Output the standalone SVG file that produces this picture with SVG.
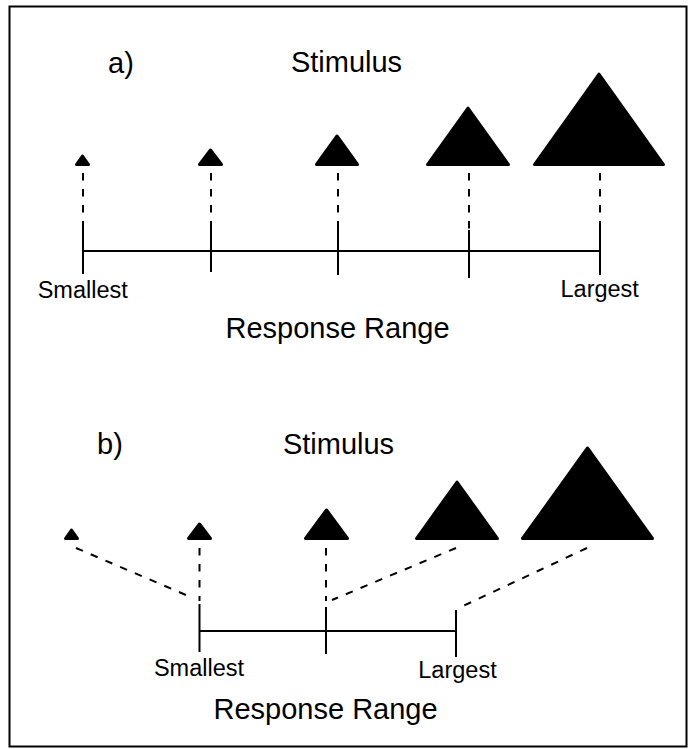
<svg xmlns="http://www.w3.org/2000/svg" width="688" height="749" viewBox="0 0 688 749">
<style>
.t{font-family:"Liberation Sans",Arial,sans-serif;fill:#000}
.big{font-size:29px}
.sm{font-size:23.5px}
.tri{fill:#000;stroke:#000;stroke-width:3;stroke-linejoin:round}
.dash{stroke:#000;stroke-width:2;stroke-dasharray:7.5 8.5;fill:none}
.solid{stroke:#000;stroke-width:2;fill:none}
</style>
<rect x="9.5" y="6.5" width="677" height="740" fill="#fff" stroke="#000" stroke-width="2"/>
<g id="panel-a">
  <text class="t big" x="108" y="73">a)</text>
  <text class="t big" x="346.5" y="72" text-anchor="middle">Stimulus</text>
  <g id="a-s1"><polygon class="tri" points="82.5,156 76.5,164.5 88.5,164.5"/></g>
  <g id="a-s2"><polygon class="tri" points="210.5,150 199.5,164.5 221.5,164.5"/></g>
  <g id="a-s3"><polygon class="tri" points="337,136 316.5,164.5 357.5,164.5"/></g>
  <g id="a-s4"><polygon class="tri" points="468,108 427.5,164.5 508.5,164.5"/></g>
  <g id="a-s5"><polygon class="tri" points="599,74 534.5,164.5 663.5,164.5"/></g>
  <g id="a-connectors">
    <line class="dash" x1="83" y1="173" x2="83" y2="227"/>
    <line class="dash" x1="211" y1="173" x2="211" y2="223"/>
    <line class="dash" x1="338" y1="173" x2="338" y2="227"/>
    <line class="dash" x1="469" y1="173" x2="469" y2="230"/>
    <line class="dash" x1="600" y1="173" x2="600" y2="227"/>
    <line class="solid" x1="83" y1="251" x2="600" y2="251"/>
    <line class="solid" x1="83" y1="227" x2="83" y2="274"/>
    <line class="solid" x1="211" y1="223" x2="211" y2="272"/>
    <line class="solid" x1="338" y1="227" x2="338" y2="275"/>
    <line class="solid" x1="469" y1="230" x2="469" y2="278"/>
    <line class="solid" x1="600" y1="227" x2="600" y2="275"/>
  </g>
  <text class="t sm" x="82.7" y="298" text-anchor="middle">Smallest</text>
  <text class="t sm" x="599.7" y="297" text-anchor="middle">Largest</text>
  <text class="t big" x="337.5" y="338" text-anchor="middle">Response Range</text>
</g>
<g id="panel-b">
  <text class="t big" x="97" y="454">b)</text>
  <text class="t big" x="338.5" y="454" text-anchor="middle">Stimulus</text>
  <g id="b-s1"><polygon class="tri" points="71.5,530 65.5,538.5 77.5,538.5"/></g>
  <g id="b-s2"><polygon class="tri" points="199.5,524 188.5,538.5 210.5,538.5"/></g>
  <g id="b-s3"><polygon class="tri" points="326.5,510 305.5,538.5 347.5,538.5"/></g>
  <g id="b-s4"><polygon class="tri" points="457,482 416.5,538.5 497.5,538.5"/></g>
  <g id="b-s5"><polygon class="tri" points="587.5,448 522.5,538.5 652.5,538.5"/></g>
  <g id="b-connectors">
    <line class="dash" x1="76" y1="548" x2="193" y2="598"/>
    <line class="dash" x1="199.5" y1="548" x2="199.5" y2="601"/>
    <line class="dash" x1="326" y1="548" x2="326" y2="601"/>
    <line class="dash" x1="456" y1="548" x2="332" y2="600"/>
    <line class="dash" x1="587" y1="548" x2="463" y2="606"/>
    <line class="solid" x1="199.5" y1="631" x2="456" y2="631"/>
    <line class="solid" x1="199.5" y1="604" x2="199.5" y2="652"/>
    <line class="solid" x1="326" y1="607" x2="326" y2="654"/>
    <line class="solid" x1="456" y1="610" x2="456" y2="657"/>
  </g>
  <text class="t sm" x="199" y="676" text-anchor="middle">Smallest</text>
  <text class="t sm" x="457.5" y="678" text-anchor="middle">Largest</text>
  <text class="t big" x="325.6" y="719" text-anchor="middle">Response Range</text>
</g>
</svg>
